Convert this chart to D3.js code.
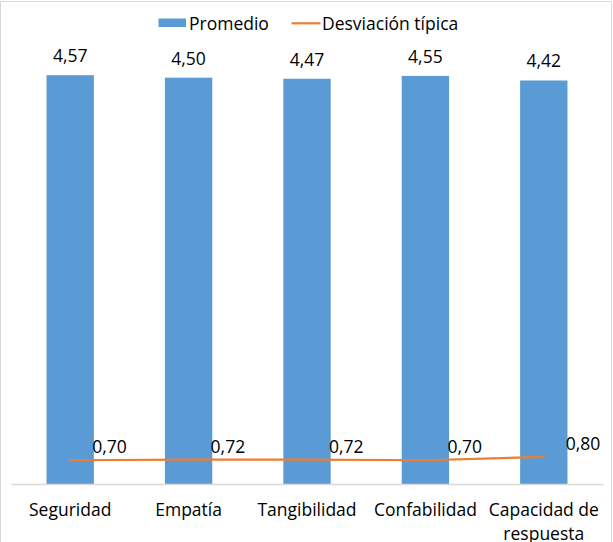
<!DOCTYPE html>
<html>
<head>
<meta charset="utf-8">
<script src="https://cdn.jsdelivr.net/npm/d3@7"></script>
<style>
  html, body { margin: 0; padding: 0; background: #fff; }
  svg { display: block; }
  text { font-family: "Open Sans", "Noto Sans", sans-serif; fill: #000; }
</style>
</head>
<body>
<svg id="chart" width="613" height="542"></svg>
<script>
const categories = ["Seguridad", "Empatía", "Tangibilidad", "Confabilidad", "Capacidad de respuesta"];
const promedio = [4.57, 4.50, 4.47, 4.55, 4.42];
const desviacion = [0.70, 0.72, 0.72, 0.70, 0.80];
const seriesNames = ["Promedio", "Desviación típica"];

const W = 613, H = 542;
const plot = { left: 11, right: 603, top: 60, bottom: 484 };
const fontSize = 17.5;
const barColor = "#5B9BD5", lineColor = "#ED7D31";
const fmt = v => d3.format(".2f")(v).replace(".", ",");

const svg = d3.select("#chart");

// chart border
svg.append("rect")
  .attr("x", 0.5).attr("y", 1.5)
  .attr("width", 611).attr("height", 560)
  .attr("fill", "#fff").attr("stroke", "#d9d9d9").attr("stroke-width", 1);

const x = d3.scaleBand()
  .domain(categories)
  .range([plot.left, plot.right])
  .paddingInner(0.6)
  .paddingOuter(0.3);

const yPrimary = d3.scaleLinear().domain([-7, 5]).range([plot.bottom, plot.top]);
const ySecondary = d3.scaleLinear().domain([0, 12.5]).range([plot.bottom, plot.top]);

// bars
svg.append("g").selectAll("rect")
  .data(promedio)
  .join("rect")
  .attr("x", (d, i) => x(categories[i]))
  .attr("y", d => yPrimary(d))
  .attr("width", x.bandwidth())
  .attr("height", d => plot.bottom - yPrimary(d))
  .attr("fill", barColor);

// x axis
const xAxis = svg.append("g")
  .attr("transform", `translate(0,${plot.bottom})`)
  .call(d3.axisBottom(x).tickSize(0).tickPadding(0));
xAxis.select(".domain").attr("stroke", "#d9d9d9").attr("stroke-width", 1.3);
xAxis.selectAll(".tick text")
  .attr("font-size", fontSize)
  .attr("font-family", '"Open Sans", sans-serif')
  .attr("fill", "#000")
  .attr("dy", null)
  .each(function(d) {
    const t = d3.select(this);
    const words = d.split(" ");
    t.text(null);
    const maxW = x.step() - 6;
    let lines = [], cur = [];
    words.forEach(w => {
      const test = cur.concat([w]).join(" ");
      t.text(test);
      if (this.getComputedTextLength() > maxW && cur.length) {
        lines.push(cur.join(" "));
        cur = [w];
      } else {
        cur.push(w);
      }
    });
    lines.push(cur.join(" "));
    t.text(null);
    lines.forEach((ln, i) => {
      t.append("tspan").attr("x", 0).attr("y", 32 + i * 23.5).text(ln);
    });
  });

// bar labels
svg.append("g").selectAll("text")
  .data(promedio)
  .join("text")
  .attr("x", (d, i) => x(categories[i]) + x.bandwidth() / 2)
  .attr("y", d => yPrimary(d) - 13)
  .attr("text-anchor", "middle")
  .attr("font-size", fontSize)
  .text(d => fmt(d));

// line
const cx = i => x(categories[i]) + x.bandwidth() / 2;
const line = d3.line()
  .x((d, i) => cx(i))
  .y(d => ySecondary(d));
svg.append("path")
  .datum(desviacion)
  .attr("d", line)
  .attr("fill", "none")
  .attr("stroke", lineColor)
  .attr("stroke-width", 2.2)
  .attr("stroke-linecap", "round");

// line labels
svg.append("g").selectAll("text")
  .data(desviacion)
  .join("text")
  .attr("x", (d, i) => cx(i) + 22)
  .attr("y", d => ySecondary(d) - 7)
  .attr("text-anchor", "start")
  .attr("font-size", fontSize)
  .text(d => fmt(d));

// legend
const legend = svg.append("g");
legend.append("rect")
  .attr("x", 158.5).attr("y", 18.5).attr("width", 27.5).attr("height", 8.5)
  .attr("fill", barColor);
legend.append("text")
  .attr("x", 189).attr("y", 30).attr("font-size", fontSize)
  .text(seriesNames[0]);
legend.append("line")
  .attr("x1", 291.5).attr("x2", 320.5).attr("y1", 23.3).attr("y2", 23.3)
  .attr("stroke", lineColor).attr("stroke-width", 2.2);
legend.append("text")
  .attr("x", 322).attr("y", 30).attr("font-size", fontSize)
  .text(seriesNames[1]);
</script>
</body>
</html>
